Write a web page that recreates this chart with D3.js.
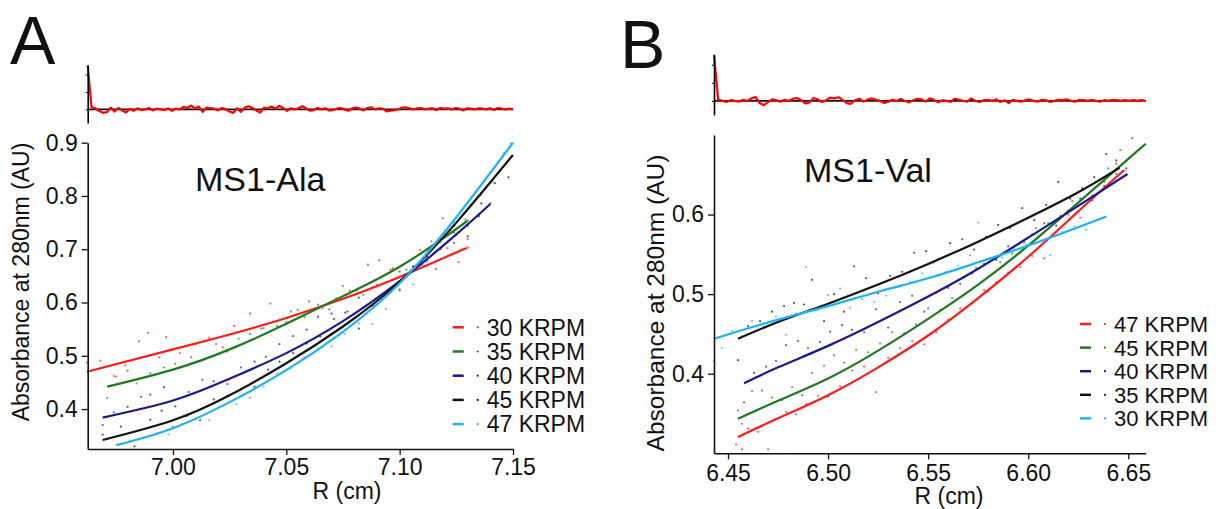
<!DOCTYPE html>
<html>
<head>
<meta charset="utf-8">
<script src="https://cdn.jsdelivr.net/npm/d3@7"></script>
<style>
  body { margin: 0; background: #fff; }
  svg text { font-family: "Liberation Sans", Arial, sans-serif; fill: #111; }
</style>
</head>
<body>
<script>
// ---- Data: panel A (MS1-Ala) ----
const seriesA = ['30 KRPM', '35 KRPM', '40 KRPM', '45 KRPM', '47 KRPM']
const colorsA = ['#ff1a1a', '#1f7a1f', '#1a1a8c', '#111111', '#1eb2f5']

// fitted curves
const fitA = [
  [[6.962, .470], [7.000, .512], [7.025, .540], [7.050, .571], [7.075, .607], [7.100, .648], [7.125, .694], [7.130, .703]],
  [[6.971, .442], [7.000, .474], [7.025, .512], [7.050, .560], [7.075, .612], [7.100, .667], [7.125, .738], [7.130, .755]],
  [[6.969, .384], [7.000, .416], [7.025, .457], [7.050, .505], [7.075, .565], [7.100, .640], [7.125, .728], [7.140, .785]],
  [[6.969, .342], [7.000, .379], [7.025, .426], [7.050, .486], [7.075, .555], [7.100, .639], [7.125, .750], [7.150, .877]],
  [[6.975, .332], [7.000, .364], [7.025, .413], [7.050, .473], [7.075, .545], [7.100, .636], [7.125, .760], [7.150, .900]]
]

const dotsA = [
  [[6.962,.487],[6.968,.491],[6.974,.462],[6.979,.482],[6.985,.527],[6.989,.543],[6.994,.497],[6.997,.535],[7.003,.505],[7.010,.522],[7.016,.534],[7.022,.516],[7.027,.556],[7.034,.579],[7.039,.551],[7.043,.598],[7.050,.563],[7.055,.586],[7.060,.602],[7.066,.589],[7.072,.608],[7.078,.622],[7.084,.614],[7.090,.633],[7.096,.662],[7.103,.652],[7.110,.671],[7.116,.663],[7.121,.702],[7.126,.676],[7.130,.719]],
  [[6.971,.421],[6.975,.461],[6.980,.472],[6.984,.448],[6.990,.467],[6.996,.478],[7.001,.485],[7.008,.497],[7.013,.492],[7.019,.522],[7.024,.508],[7.029,.532],[7.034,.541],[7.040,.552],[7.046,.556],[7.052,.583],[7.058,.573],[7.064,.596],[7.069,.587],[7.075,.631],[7.081,.622],[7.086,.671],[7.091,.679],[7.097,.664],[7.103,.662],[7.109,.699],[7.114,.715],[7.119,.758],[7.124,.731],[7.129,.756]],
  [[6.969,.370],[6.974,.394],[6.980,.404],[6.986,.423],[6.990,.427],[6.996,.441],[7.001,.405],[7.007,.432],[7.013,.455],[7.018,.452],[7.024,.447],[7.030,.478],[7.036,.489],[7.041,.498],[7.047,.522],[7.053,.537],[7.059,.549],[7.064,.573],[7.070,.579],[7.076,.581],[7.082,.609],[7.088,.628],[7.094,.638],[7.100,.658],[7.106,.668],[7.112,.679],[7.118,.700],[7.124,.712],[7.130,.724],[7.135,.762],[7.140,.786]],
  [[6.969,.352],[6.977,.367],[6.983,.330],[6.990,.380],[6.995,.397],[7.000,.366],[7.006,.387],[7.012,.379],[7.018,.418],[7.024,.425],[7.030,.436],[7.036,.442],[7.042,.474],[7.047,.489],[7.053,.505],[7.059,.523],[7.065,.536],[7.071,.569],[7.077,.583],[7.082,.551],[7.088,.594],[7.094,.615],[7.100,.624],[7.106,.667],[7.112,.686],[7.118,.721],[7.124,.744],[7.130,.744],[7.136,.786],[7.142,.824],[7.148,.835]],
  [[6.976,.334],[6.981,.341],[6.987,.346],[6.993,.355],[6.998,.352],[7.004,.372],[7.010,.381],[7.016,.379],[7.022,.418],[7.028,.409],[7.034,.421],[7.040,.442],[7.046,.467],[7.052,.477],[7.058,.497],[7.064,.512],[7.070,.518],[7.076,.541],[7.082,.561],[7.088,.560],[7.094,.588],[7.100,.622],[7.106,.634],[7.112,.677],[7.118,.713],[7.124,.751],[7.130,.786],[7.136,.801],[7.141,.827],[7.146,.881],[7.149,.899]]
]

// residuals (x 0.001), evenly spaced across the radius range
const residA = [126, 6, 3, -5, -10, -8, 5, -6, 4, -3, -9, 2, -4, 3, -2, 0, 4, -3, 2, 0, -2, 3, -4, 2, 0, 7, 4, 11, 3, 8, -7, 5, 4, 2, -3, 4, 0, -6, -10, 3, -7, 5, 9, 4, -3, -9, 5, 3, 8, 2, 10, 4, -4, 3, 0, 3, 9, 3, -4, -2, 4, 0, 3, -3, -2, 2, 4, 0, -4, 3, 5, 2, -3, 4, 6, 0, 3, 2, -6, -4, -2, 0, 5, 6, 3, 0, 3, 4, 0, 2, 3, -2, 4, 2, 3, 0, 4, 2, -3, 3, 2, 0, 3, 2, 0, 3, -2, 4, 2, 0, 2, 0]

// ---- Data: panel B (MS1-Val) ----
const seriesB = ['47 KRPM', '45 KRPM', '40 KRPM', '35 KRPM', '30 KRPM']
const colorsB = ['#ff1a1a', '#1f7a1f', '#1a1a8c', '#111111', '#1eb2f5']

const fitB = [
  [[6.455, .3205], [6.475, .344], [6.500, .373], [6.525, .408], [6.550, .448], [6.575, .495], [6.600, .547], [6.625, .604], [6.648, .656]],
  [[6.455, .3435], [6.475, .366], [6.500, .394], [6.525, .429], [6.550, .469], [6.575, .512], [6.600, .561], [6.625, .615], [6.650, .670], [6.6587, .689]],
  [[6.458, .388], [6.475, .408], [6.500, .435], [6.525, .465], [6.550, .497], [6.575, .532], [6.600, .571], [6.625, .611], [6.6496, .651]],
  [[6.455, .444], [6.475, .465], [6.500, .488], [6.525, .512], [6.550, .538], [6.575, .566], [6.600, .596], [6.625, .628], [6.6457, .659]],
  [[6.443, .444], [6.475, .468], [6.500, .485], [6.525, .503], [6.550, .520], [6.575, .540], [6.600, .561], [6.625, .584], [6.639, .5975]]
]

const dotsB = [
  [[6.454,.311],[6.457,.305],[6.460,.331],[6.465,.327],[6.470,.305],[6.474,.343],[6.479,.352],[6.484,.349],[6.489,.362],[6.495,.372],[6.500,.371],[6.506,.384],[6.512,.404],[6.518,.409],[6.524,.377],[6.530,.420],[6.536,.432],[6.542,.441],[6.548,.437],[6.554,.452],[6.560,.468],[6.566,.482],[6.572,.489],[6.578,.505],[6.584,.515],[6.590,.527],[6.596,.534],[6.602,.548],[6.608,.545],[6.614,.578],[6.620,.600],[6.626,.596],[6.632,.624],[6.638,.641],[6.644,.664],[6.649,.667]],
  [[6.455,.354],[6.457,.337],[6.462,.378],[6.467,.379],[6.472,.370],[6.477,.367],[6.482,.383],[6.487,.373],[6.492,.401],[6.498,.410],[6.503,.423],[6.508,.414],[6.514,.430],[6.520,.427],[6.526,.438],[6.532,.452],[6.538,.451],[6.544,.462],[6.550,.482],[6.556,.480],[6.562,.495],[6.568,.521],[6.574,.533],[6.580,.503],[6.586,.540],[6.592,.551],[6.598,.565],[6.604,.583],[6.610,.589],[6.616,.598],[6.622,.617],[6.628,.622],[6.634,.641],[6.640,.658],[6.646,.681],[6.652,.696],[6.656,.684]],
  [[6.458,.364],[6.463,.401],[6.469,.409],[6.474,.416],[6.479,.436],[6.485,.441],[6.490,.432],[6.496,.440],[6.501,.453],[6.507,.461],[6.512,.455],[6.518,.452],[6.524,.481],[6.530,.458],[6.536,.490],[6.542,.498],[6.548,.478],[6.554,.502],[6.560,.508],[6.566,.513],[6.572,.526],[6.578,.538],[6.584,.543],[6.590,.560],[6.596,.552],[6.602,.575],[6.608,.589],[6.614,.586],[6.620,.605],[6.626,.620],[6.632,.618],[6.638,.636],[6.644,.651],[6.649,.658]],
  [[6.455,.417],[6.460,.460],[6.466,.466],[6.472,.478],[6.478,.485],[6.483,.489],[6.488,.487],[6.492,.518],[6.498,.466],[6.503,.500],[6.508,.478],[6.513,.535],[6.519,.520],[6.525,.501],[6.531,.523],[6.537,.528],[6.543,.552],[6.549,.554],[6.555,.544],[6.561,.564],[6.567,.569],[6.573,.556],[6.579,.572],[6.585,.587],[6.591,.583],[6.597,.608],[6.603,.593],[6.609,.612],[6.615,.641],[6.621,.620],[6.627,.633],[6.633,.647],[6.639,.676],[6.644,.668]],
  [[6.443,.416],[6.447,.432],[6.452,.454],[6.457,.447],[6.462,.466],[6.468,.459],[6.474,.472],[6.479,.449],[6.484,.476],[6.489,.534],[6.494,.480],[6.500,.499],[6.506,.507],[6.511,.483],[6.517,.494],[6.523,.490],[6.529,.498],[6.535,.509],[6.541,.515],[6.547,.526],[6.553,.539],[6.559,.528],[6.565,.536],[6.571,.549],[6.575,.590],[6.581,.543],[6.587,.546],[6.593,.556],[6.599,.562],[6.605,.571],[6.611,.549],[6.617,.578],[6.623,.585],[6.629,.581],[6.635,.594]]
]

const residB = [128, 4, 0, -3, 2, 0, -2, 3, 0, 7, 11, -6, -12, -3, 4, 2, -2, 3, 0, 6, 8, 2, -7, -4, 8, 4, -3, 2, 9, 7, 10, 3, -6, -8, 2, 6, -2, 4, 7, 3, 0, -6, -2, 3, 0, 5, 0, -4, 2, 6, 4, -2, 7, 3, -4, 2, 0, -3, 6, 3, 0, -2, 7, 0, -3, 2, 3, 0, 4, -3, 2, -6, 3, 0, -2, 2, 4, 0, -2, 3, 2, -3, 0, 3, 2, 4, 0, -2, 3, 2, 0, 3, 0, -2, 2, 0, 3, 2, 0, 2, 0, 2, 0, 2, 0]

const xTicksA = [7.00, 7.05, 7.10, 7.15]
const yTicksA = [0.4, 0.5, 0.6, 0.7, 0.8, 0.9]
const xTicksB = [6.45, 6.50, 6.55, 6.60, 6.65]
const yTicksB = [0.4, 0.5, 0.6]
const residTicks = [0, 0.05, 0.1]

const svg = d3.select('body').append('svg')
    .attr('width', 1225)
    .attr('height', 509)

function drawPanel(p) {
  const g = svg.append('g')

  // panel letter
  g.append('text').attr('x', p.letterX).attr('y', p.letterY)
      .style('font-size', '68px').text(p.letter)

  // residual strip
  const rx = d3.scaleLinear().domain([0, p.resid.length - 1]).range(p.xRange)
  const ry = d3.scaleLinear().domain([-0.039, 0.127]).range(p.rRange)
  g.append('line')
      .attr('x1', p.xRange[0]).attr('x2', p.xRange[1])
      .attr('y1', ry(0)).attr('y2', ry(0))
      .attr('stroke', '#111').attr('stroke-width', 1.8)
  g.append('path').datum(p.resid)
      .attr('fill', 'none').attr('stroke', '#ff0000').attr('stroke-width', 2.2)
      .attr('stroke-linejoin', 'round')
      .attr('d', d3.line().x((d, i) => rx(i)).y(d => ry(d / 1000)))
  g.append('g').attr('transform', `translate(${p.xRange[0]},0)`)
      .call(d3.axisLeft(ry).tickValues(residTicks).tickSize(2).tickSizeOuter(0).tickFormat(''))
      .call(a => a.select('.domain').attr('stroke-width', 1.6))

  // main plot
  const x = d3.scaleLinear().domain(p.xDomain).range(p.xRange)
  const y = d3.scaleLinear().domain(p.yDomain).range(p.yRange)

  p.dots.forEach((pts, i) => {
    g.append('g').selectAll('circle')
        .data(pts)
        .enter().append('circle')
        .attr('cx', d => x(d[0]))
        .attr('cy', d => y(d[1]))
        .attr('r', 1.1)
        .attr('fill', p.colors[i])
        .attr('opacity', 0.7)
  })

  const line = d3.line().x(d => x(d[0])).y(d => y(d[1])).curve(d3.curveNatural)
  p.fits.forEach((pts, i) => {
    g.append('path').datum(pts)
        .attr('fill', 'none')
        .attr('stroke', p.colors[i])
        .attr('stroke-width', 2.2)
        .attr('d', line)
  })

  const xAxis = g.append('g').attr('transform', `translate(0,${p.yRange[0]})`)
      .call(d3.axisBottom(x).tickValues(p.xTicks).tickFormat(d3.format('.2f'))
        .tickSize(6).tickSizeOuter(0).tickPadding(p.xPad))
  const yAxis = g.append('g').attr('transform', `translate(${p.xRange[0]},0)`)
      .call(d3.axisLeft(y).tickValues(p.yTicks).tickFormat(d3.format('.1f'))
        .tickSize(6).tickSizeOuter(0).tickPadding(4))
  ;[xAxis, yAxis].forEach(a => {
    a.select('.domain').attr('stroke', '#111').attr('stroke-width', 1.6)
    a.selectAll('.tick line').attr('stroke', '#111').attr('stroke-width', 1.3)
    a.selectAll('.tick text').style('font-size', '23px')
        .style('font-family', '"Liberation Sans", Arial, sans-serif').attr('fill', '#111')
  })

  // axis titles
  g.append('text')
      .attr('transform', `translate(${p.yTitleX},${p.yTitleY}) rotate(-90)`)
      .attr('text-anchor', 'middle').attr('dy', '0.35em')
      .style('font-size', p.yTitleSize + 'px')
      .text('Absorbance at 280nm (AU)')
  g.append('text')
      .attr('x', p.xTitleX).attr('y', p.xTitleY)
      .attr('text-anchor', 'middle')
      .style('font-size', '23px')
      .text('R (cm)')

  // sample name
  g.append('text').attr('x', p.nameX).attr('y', p.nameY)
      .style('font-size', '34px').text(p.name)

  // legend
  const leg = g.append('g').selectAll('g')
      .data(p.series)
      .enter().append('g')
      .attr('transform', (d, i) => `translate(${p.legX},${p.legY + i * p.legStep})`)
  leg.append('line')
      .attr('x1', 0).attr('x2', 11)
      .attr('stroke', (d, i) => p.colors[i]).attr('stroke-width', 2.5)
  leg.append('circle')
      .attr('cx', 25).attr('r', 1.1)
      .attr('fill', (d, i) => p.colors[i])
  leg.append('text')
      .attr('x', 34).attr('dy', '0.36em')
      .style('font-size', p.legSize + 'px')
      .text(d => d)
}

drawPanel({
  letter: 'A', letterX: 10, letterY: 64,
  name: 'MS1-Ala', nameX: 195, nameY: 191,
  xDomain: [6.9624, 7.15], xRange: [87.7, 513],
  yDomain: [0.325, 0.9], yRange: [449, 142.7],
  rRange: [123, 65],
  xTicks: xTicksA, yTicks: yTicksA, xPad: 4,
  series: seriesA, colors: colorsA, fits: fitA, dots: dotsA, resid: residA,
  yTitleX: 21, yTitleY: 282, yTitleSize: 23,
  xTitleX: 347, xTitleY: 499,
  legX: 452.7, legY: 327.3, legStep: 24.2, legSize: 23
})

drawPanel({
  letter: 'B', letterX: 620, letterY: 68,
  name: 'MS1-Val', nameX: 804, nameY: 182,
  xDomain: [6.443, 6.6587], xRange: [714, 1145.7],
  yDomain: [0.30, 0.70], yRange: [453.3, 135],
  rRange: [115, 55],
  xTicks: xTicksB, yTicks: yTicksB, xPad: 5,
  series: seriesB, colors: colorsB, fits: fitB, dots: dotsB, resid: residB,
  yTitleX: 655, yTitleY: 303, yTitleSize: 24.5,
  xTitleX: 949, xTitleY: 504,
  legX: 1080, legY: 324, legStep: 23.6, legSize: 22
})
</script>
</body>
</html>
